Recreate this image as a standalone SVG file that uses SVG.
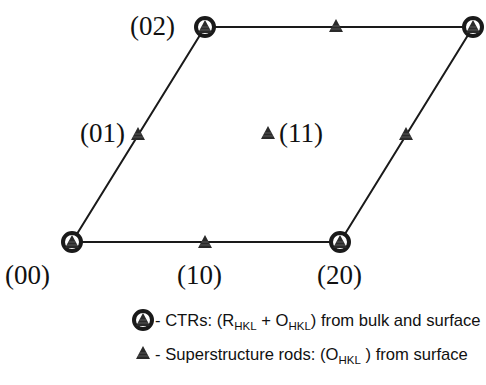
<svg xmlns="http://www.w3.org/2000/svg" width="486" height="385" viewBox="0 0 486 385">
<style>
.lbl{font-family:"Liberation Serif","Times New Roman",serif;font-size:27px;fill:#111}
.leg{font-family:"Liberation Sans",Arial,sans-serif;font-size:16.6px;fill:#111}
.sub{font-size:11.5px}
.edge{stroke:#1a1a1a;stroke-width:2;fill:none}
.ring{fill:#fff;stroke:#1a1a1a;stroke-width:4}
.tri{fill:#2a2a2a}
</style>
<defs>
<g id="t"><polygon class="tri" points="0,-7 7,6 -7,6"/><line x1="-3.5" y1="0" x2="3.5" y2="0" stroke="#777" stroke-width="0.6"/><line x1="-5" y1="3" x2="5" y2="3" stroke="#777" stroke-width="0.6"/></g>
<g id="r"><circle class="ring" r="9"/><use href="#t"/></g>
</defs>
<g id="connectors">
<polygon class="edge" points="72,242 340,242 473,27 205,27"/>
</g>
<g id="n00"><use href="#r" x="72" y="242"/><text class="lbl" x="5" y="284">(00)</text></g>
<g id="n10"><use href="#t" x="205" y="242"/><text class="lbl" x="177" y="284">(10)</text></g>
<g id="n20"><use href="#r" x="340" y="242"/><text class="lbl" x="317" y="284">(20)</text></g>
<g id="n01"><use href="#t" x="138" y="134"/><text class="lbl" x="80" y="142">(01)</text></g>
<g id="n11"><use href="#t" x="268" y="133"/><text class="lbl" x="279" y="142">(11)</text></g>
<g id="n21"><use href="#t" x="406" y="134"/></g>
<g id="n02"><use href="#r" x="205" y="27"/><text class="lbl" x="130" y="35">(02)</text></g>
<g id="n12"><use href="#t" x="336" y="26"/></g>
<g id="n22"><use href="#r" x="473" y="27"/></g>
<g id="legend">
<use href="#r" x="143" y="320"/>
<text class="leg" x="155" y="326">- CTRs: (R<tspan class="sub" dy="4">HKL</tspan><tspan dy="-4"> + O</tspan><tspan class="sub" dy="4">HKL</tspan><tspan dy="-4">) from bulk and surface</tspan></text>
<use href="#t" x="143" y="353"/>
<text class="leg" x="155" y="360">- Superstructure rods: (O<tspan class="sub" dy="4">HKL</tspan><tspan dy="-4"> ) from surface</tspan></text>
</g>
</svg>
